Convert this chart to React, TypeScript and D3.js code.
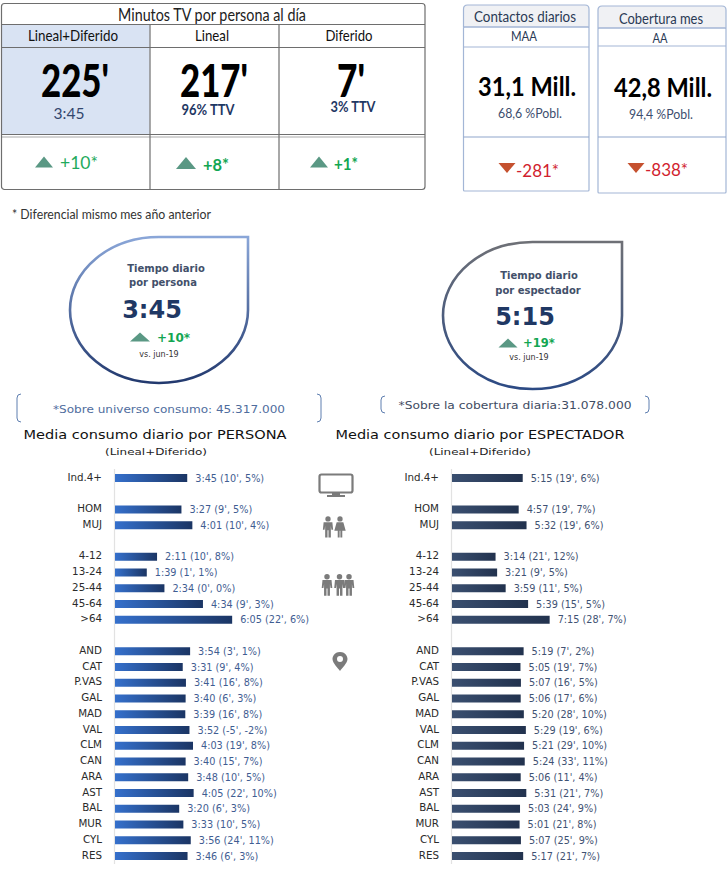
import React from "react";
import * as d3 from "d3";

const slots = [0, 2, 3, 5, 6, 7, 8, 9, 11, 12, 13, 14, 15, 16, 17, 18, 19, 20, 21, 22, 23, 24];
const categories = ["Ind.4+", "HOM", "MUJ", "4-12", "13-24", "25-44", "45-64", ">64", "AND", "CAT", "P.VAS", "GAL", "MAD", "VAL", "CLM", "CAN", "ARA", "AST", "BAL", "MUR", "CYL", "RES"];
const personaTime = ["3:45", "3:27", "4:01", "2:11", "1:39", "2:34", "4:34", "6:05", "3:54", "3:31", "3:41", "3:40", "3:39", "3:52", "4:03", "3:40", "3:48", "4:05", "3:20", "3:33", "3:56", "3:46"];
const personaDiff = ["10', 5%", "9', 5%", "10', 4%", "10', 8%", "1', 1%", "0', 0%", "9', 3%", "22', 6%", "3', 1%", "9', 4%", "16', 8%", "6', 3%", "16', 8%", "-5', -2%", "19', 8%", "15', 7%", "10', 5%", "22', 10%", "6', 3%", "10', 5%", "24', 11%", "6', 3%"];
const espectadorTime = ["5:15", "4:57", "5:32", "3:14", "3:21", "3:59", "5:39", "7:15", "5:19", "5:05", "5:07", "5:06", "5:20", "5:29", "5:21", "5:24", "5:06", "5:31", "5:03", "5:01", "5:07", "5:17"];
const espectadorDiff = ["19', 6%", "19', 7%", "19', 6%", "21', 12%", "9', 5%", "11', 5%", "15', 5%", "28', 7%", "7', 2%", "19', 7%", "16', 5%", "17', 6%", "28', 10%", "19', 6%", "29', 10%", "33', 11%", "11', 4%", "21', 7%", "24', 9%", "21', 8%", "25', 9%", "21', 7%"];

const W = 728, H = 873;
const CAL = "Lato, 'Open Sans', sans-serif";
const VER = "'DejaVu Sans', sans-serif";
const minutes = (t: string) => { const [h, m] = t.split(":").map(Number); return h * 60 + m; };
const y = d3.scaleLinear().domain([0, 24]).range([478, 856]);

function Tri({ x, y, up = true, w = 18, h = 11, fill }: { x: number; y: number; up?: boolean; w?: number; h?: number; fill?: string }) {
  const d = up ? `M${x - w / 2},${y + h / 2}L${x},${y - h / 2}L${x + w / 2},${y + h / 2}Z` : `M${x - w / 2},${y - h / 2}L${x + w / 2},${y - h / 2}L${x},${y + h / 2}Z`;
  return <path d={d} fill={fill ?? (up ? "#5a9884" : "#c5512f")} />;
}

function T({ x, y, s, c = "#000", w = 400, a = "middle", f = CAL, len, children }: any) {
  return <text x={x} y={y} fontSize={s} fill={c} fontWeight={w} textAnchor={a} fontFamily={f} textLength={len} lengthAdjust={len ? "spacingAndGlyphs" : undefined}>{children}</text>;
}

function Bars({ times, diffs, x0, px, labelX, fill, valueColor }: any) {
  const maxMin = 480;
  const x = d3.scaleLinear().domain([0, maxMin]).range([x0, x0 + maxMin * px]);
  return (
    <g>
      <line x1={x0 - 0.5} x2={x0 - 0.5} y1={469} y2={864} stroke="#e2e2e2" strokeWidth={1.2} />
      {categories.map((c, i) => {
        const yy = y(slots[i]);
        const end = x(minutes(times[i]));
        return (
          <g key={c}>
            <text x={labelX} y={yy + 2.5} textAnchor="end" fontFamily={VER} fontSize={10.3} fill="#2b2b2b">{c}</text>
            <rect x={x0} y={yy - 4} width={end - x0} height={8} fill={fill} />
            <text x={end + 8} y={yy + 3.5} fontFamily={VER} fontSize={9.7} fill={valueColor}>{`${times[i]} (${diffs[i]})`}</text>
          </g>
        );
      })}
    </g>
  );
}

const Person = ({ x, y, s = 1, skirt = false }: any) => (
  <g transform={`translate(${x},${y}) scale(${s})`} fill="#7b7b7b">
    <circle cx={0} cy={-8.5} r={2.8} />
    {skirt
      ? <path d="M-3.5,-5 H3.5 L6,4 H2.4 V11 H0.4 V4 H-0.4 V11 H-2.4 V4 H-6 Z" />
      : <path d="M-4.6,-5 H4.6 L5.4,3 H3.6 L3,-1 V11 H0.5 V3.5 H-0.5 V11 H-3 V-1 L-3.6,3 H-5.4 Z" />}
  </g>
);

function Drop({ id, x1, x2, y1, y2, top, bottom }: any) {
  const cx = (x1 + x2) / 2, cy = (y1 + y2) / 2, rx = (x2 - x1) / 2, ry = (y2 - y1) / 2;
  return (
    <g>
      <defs>
        <linearGradient id={id} x1="0" y1="0" x2="0" y2="1">
          <stop offset="0" stopColor={top} />
          <stop offset="1" stopColor={bottom} />
        </linearGradient>
      </defs>
      <path d={`M${x2},${y1} L${cx},${y1} A${rx},${ry} 0 1 0 ${x2},${cy} Z`} fill="#fff" stroke={`url(#${id})`} strokeWidth={2.6} />
    </g>
  );
}

const Bracket = ({ x1, x2, y1, y2 }: any) => (
  <g fill="none" stroke="#5f7fb0" strokeWidth={1}>
    <path d={`M${x1 + 4},${y1} Q${x1},${y1} ${x1},${y1 + 4} V${y2 - 4} Q${x1},${y2} ${x1 + 4},${y2}`} />
    <path d={`M${x2 - 4},${y1} Q${x2},${y1} ${x2},${y1 + 4} V${y2 - 4} Q${x2},${y2} ${x2 - 4},${y2}`} />
  </g>
);

export default function App() {
  const line = "#6e6e6e";
  const blue = "#a3b6d6";
  return (
    <svg width={W} height={H} viewBox={`0 0 ${W} ${H}`} style={{ position: "absolute", left: 0, top: 0, background: "#fff" }}>
      <defs>
        <linearGradient id="barL" x1="0" x2="1" y1="0" y2="0">
          <stop offset="0" stopColor="#3570cc" />
          <stop offset="1" stopColor="#1b3564" />
        </linearGradient>
        <linearGradient id="barR" x1="0" x2="1" y1="0" y2="0">
          <stop offset="0" stopColor="#3a4f70" />
          <stop offset="1" stopColor="#22324e" />
        </linearGradient>
      </defs>

      {/* main table */}
      <rect x={1.5} y={24.5} width={148} height={110} fill="#d9e3f3" />
      <rect x={1.5} y={3.5} width={423.5} height={186} rx={3} fill="none" stroke={line} strokeWidth={1.2} />
      <g stroke={line} strokeWidth={1.2}>
        <line x1={1.5} x2={425} y1={24.5} y2={24.5} />
        <line x1={1.5} x2={425} y1={47.5} y2={47.5} />
        <line x1={1.5} x2={425} y1={134.5} y2={134.5} />
        <line x1={1.5} x2={425} y1={137} y2={137} strokeWidth={0.6} />
        <line x1={150} x2={150} y1={24.5} y2={190} />
        <line x1={279} x2={279} y1={24.5} y2={190} />
      </g>
      <T x={212} y={21} s={16.5} c="#222" len={188}>Minutos TV por persona al día</T>
      <T x={73} y={41} s={15} c="#111" len={90}>Lineal+Diferido</T>
      <T x={212} y={41} s={15} c="#111" len={34}>Lineal</T>
      <T x={349} y={41} s={15} c="#111" len={47}>Diferido</T>
      <T x={75} y={97} s={46} w={900} len={68}>225'</T>
      <T x={214} y={97} s={46} w={900} len={68}>217'</T>
      <T x={351} y={97} s={46} w={900} len={28}>7'</T>
      <T x={69} y={119} s={16} c="#33476e" len={31}>3:45</T>
      <T x={208} y={115} s={15.5} c="#1f3864" w={700} len={53}>96% TTV</T>
      <T x={353} y={112} s={15.5} c="#1f3864" w={700} len={45}>3% TTV</T>
      <Tri x={44} y={162} />
      <T x={60} y={169} s={17} c="#1faa5c" a="start" len={38}>+10*</T>
      <Tri x={186} y={163} w={20} h={12} />
      <T x={203} y={171} s={17} c="#12a652" a="start" w={700} len={26}>+8*</T>
      <Tri x={319} y={162} />
      <T x={334} y={170} s={17} c="#12a652" a="start" w={700} len={24}>+1*</T>
      <T x={12} y={219} s={12.5} c="#333" a="start" len={199}>* Diferencial  mismo mes año anterior</T>

      {/* right tables */}
      <g fill="none" stroke={blue} strokeWidth={1.2}>
        <path d="M463.5,27 V9 Q463.5,5 467.5,5 H585 Q589,5 589,9 V27 Z" fill="#f0f1f4" />
        <rect x={463.5} y={27} width={125.5} height={164} rx={1} />
        <line x1={463.5} x2={589} y1={47} y2={47} />
        <line x1={463.5} x2={589} y1={137} y2={137} stroke="#8fa6cc" />
        <path d="M598,28 V10 Q598,6 602,6 H722 Q726,6 726,10 V28 Z" fill="#f0f1f4" />
        <rect x={598} y={28} width={128} height={165} rx={1} />
        <line x1={598} x2={726} y1={46} y2={46} />
        <line x1={598} x2={726} y1={137} y2={137} stroke="#8fa6cc" />
      </g>
      <T x={525} y={22} s={14.5} c="#2a3a55" len={102}>Contactos diarios</T>
      <T x={661} y={24} s={14.5} c="#2a3a55" len={84}>Cobertura mes</T>
      <T x={524} y={41} s={13} c="#2a3a55" len={26}>MAA</T>
      <T x={660} y={43} s={13} c="#2a3a55" len={15}>AA</T>
      <T x={527} y={96} s={26} w={700} len={98}>31,1 Mill.</T>
      <T x={663} y={97} s={26} w={700} len={98}>42,8 Mill.</T>
      <T x={530} y={118} s={14} c="#3d4e6e" len={64}>68,6 %Pobl.</T>
      <T x={661} y={119} s={14} c="#3d4e6e" len={64}>94,4 %Pobl.</T>
      <Tri x={507} y={168} up={false} w={17} h={10} />
      <T x={516} y={177} s={17} c="#d11e2e" a="start" len={43}>-281*</T>
      <Tri x={636} y={168} up={false} w={17} h={10} />
      <T x={645} y={176} s={17} c="#d11e2e" a="start" len={43}>-838*</T>

      {/* drops */}
      <Drop id="d1" x1={70} x2={248} y1={237} y2={383} top="#8aa6d8" bottom="#22396e" />
      <T x={166} y={272} s={10} c="#42506a" w={700} f={VER}>Tiempo diario</T>
      <T x={163} y={286} s={10} c="#42506a" w={700} f={VER}>por persona</T>
      <T x={152} y={318} s={24} c="#1f3864" w={700} f={VER}>3:45</T>
      <Tri x={140} y={337} w={20} h={9} />
      <T x={157} y={342} s={12} c="#12a652" w={700} a="start" f={VER}>+10*</T>
      <T x={159} y={357} s={8} c="#333" f={VER}>vs. jun-19</T>

      <Drop id="d2" x1={443} x2={622} y1={242} y2={389} top="#6e7076" bottom="#2c4a84" />
      <T x={539} y={279} s={10} c="#42506a" w={700} f={VER}>Tiempo diario</T>
      <T x={538} y={294} s={10} c="#42506a" w={700} f={VER}>por espectador</T>
      <T x={525} y={325} s={24} c="#1f3864" w={700} f={VER}>5:15</T>
      <Tri x={508} y={343} w={19} h={9} />
      <T x={523} y={347} s={11.5} c="#12a652" w={700} a="start" f={VER}>+19*</T>
      <T x={529} y={360} s={8} c="#333" f={VER}>vs. jun-19</T>

      <Bracket x1={17} x2={321} y1={394} y2={422} />
      <T x={169} y={413} s={10.5} c="#4f6d9e" f={VER} len={232}>*Sobre universo consumo: 45.317.000</T>
      <Bracket x1={381} x2={649} y1={396} y2={413} />
      <T x={515} y={409} s={10.5} c="#3f4c63" f={VER} len={233}>*Sobre la cobertura diaria:31.078.000</T>

      <T x={155} y={439} s={12.6} c="#111" f={VER} len={263}>Media consumo diario por PERSONA</T>
      <T x={156} y={455} s={9.5} c="#222" f={VER} len={102}>(Lineal+Diferido)</T>
      <T x={480} y={439} s={12.6} c="#111" f={VER} len={289}>Media consumo diario por ESPECTADOR</T>
      <T x={480} y={455} s={9.5} c="#222" f={VER} len={102}>(Lineal+Diferido)</T>

      <Bars times={personaTime} diffs={personaDiff} x0={115} px={0.321} labelX={102} fill="url(#barL)" valueColor="#3f5d92" />
      <Bars times={espectadorTime} diffs={espectadorDiff} x0={452} px={0.2245} labelX={439} fill="url(#barR)" valueColor="#3f5273" />

      {/* icons */}
      <g fill="none" stroke="#7b7b7b">
        <rect x={319.5} y={474.5} width={33} height={18} rx={2} strokeWidth={2.2} />
      </g>
      <path d="M332,493H340V495H345V497H327V495H332Z" fill="#7b7b7b" />
      <Person x={328} y={527} s={0.95} />
      <Person x={340} y={527} s={0.95} skirt />
      <Person x={327} y={585} s={0.98} />
      <Person x={339.5} y={585} s={0.98} />
      <Person x={349} y={585} s={0.98} />
      <path d="M340,652 C346,652 347.5,657 347.5,659 C347.5,663 342,668 340,671 C338,668 332.5,663 332.5,659 C332.5,657 334,652 340,652Z M340,656 A3,3 0 1 0 340,662 A3,3 0 1 0 340,656Z" fill="#7b7b7b" fillRule="evenodd" />
    </svg>
  );
}
